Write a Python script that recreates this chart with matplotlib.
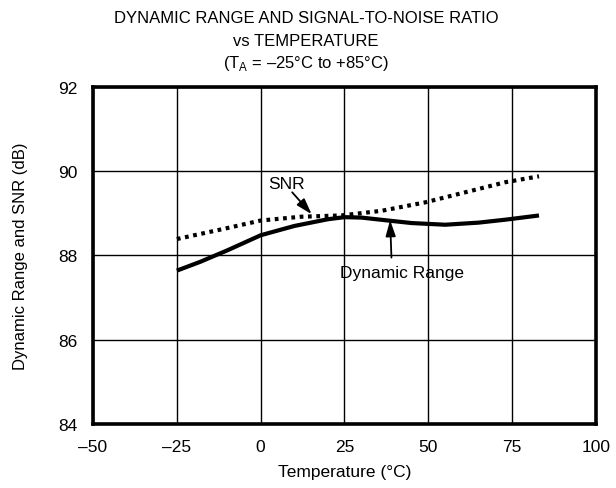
import numpy as np
import matplotlib
matplotlib.use("Agg")
import matplotlib.pyplot as plt

plt.rcParams["font.family"] = ["Liberation Sans", "DejaVu Sans"]
plt.rcParams["mathtext.fontset"] = "custom"
plt.rcParams["mathtext.rm"] = "Liberation Sans"

# ── Data ──
temp_dr = [-25, -18, -10, -5, 0, 10, 20, 25, 30, 38, 45, 55, 65, 73, 83]
dyn_range = [87.64, 87.85, 88.12, 88.3, 88.48, 88.7, 88.86, 88.91, 88.9, 88.83, 88.77, 88.73, 88.78, 88.85, 88.95]

temp_snr = [-25, -10, 0, 12, 24, 36, 49, 61, 73, 83]
snr = [88.39, 88.65, 88.83, 88.92, 88.95, 89.06, 89.26, 89.5, 89.74, 89.88]

x_ticks = [-50, -25, 0, 25, 50, 75, 100]
y_ticks = [84, 86, 88, 90, 92]

fig = plt.figure(figsize=(6.16, 4.89), dpi=100)
ax = fig.add_axes([0.151, 0.131, 0.8165, 0.689])

ax.plot(temp_dr, dyn_range, color="black", lw=3.0, solid_capstyle="butt")
ax.plot(temp_snr, snr, color="black", lw=3.0, linestyle=(0, (0.9, 1.1)))

ax.set_xlim(-50, 100)
ax.set_ylim(84, 92)
ax.set_xticks(x_ticks)
ax.set_yticks(y_ticks)
ax.set_xticklabels([str(t).replace("-", "\u2013") for t in x_ticks])
ax.tick_params(length=0, labelsize=12.5, pad=11, colors="black")
ax.grid(True, color="black", lw=1.0)
for s in ax.spines.values():
    s.set_linewidth(2.6)

ax.set_xlabel("Temperature (°C)", fontsize=12.5, labelpad=7)
ax.set_ylabel("Dynamic Range and SNR (dB)", fontsize=12, labelpad=22)

# labels with arrows
arrow_kw = dict(arrowstyle="-|>,head_length=0.8,head_width=0.25", color="black",
                lw=1.3, shrinkA=0, shrinkB=0, mutation_scale=12)
ax.text(7.7, 89.72, "SNR", fontsize=12.5, ha="center", va="center")
ax.annotate("", xy=(15.2, 88.98), xytext=(9.4, 89.5), arrowprops=arrow_kw)
ax.text(42, 87.6, "Dynamic Range", fontsize=12.5, ha="center", va="center")
ax.annotate("", xy=(38.6, 88.84), xytext=(39.0, 87.95), arrowprops=arrow_kw)

fig.text(0.497, 0.962, "DYNAMIC RANGE AND SIGNAL-TO-NOISE RATIO", ha="center",
         va="center", fontsize=12)
fig.text(0.497, 0.916, "vs TEMPERATURE", ha="center", va="center", fontsize=12)
fig.text(0.497, 0.871, "(T$_\\mathregular{A}$ = \u201325°C to +85°C)", ha="center",
         va="center", fontsize=12)

fig.savefig("out.png", dpi=100)
